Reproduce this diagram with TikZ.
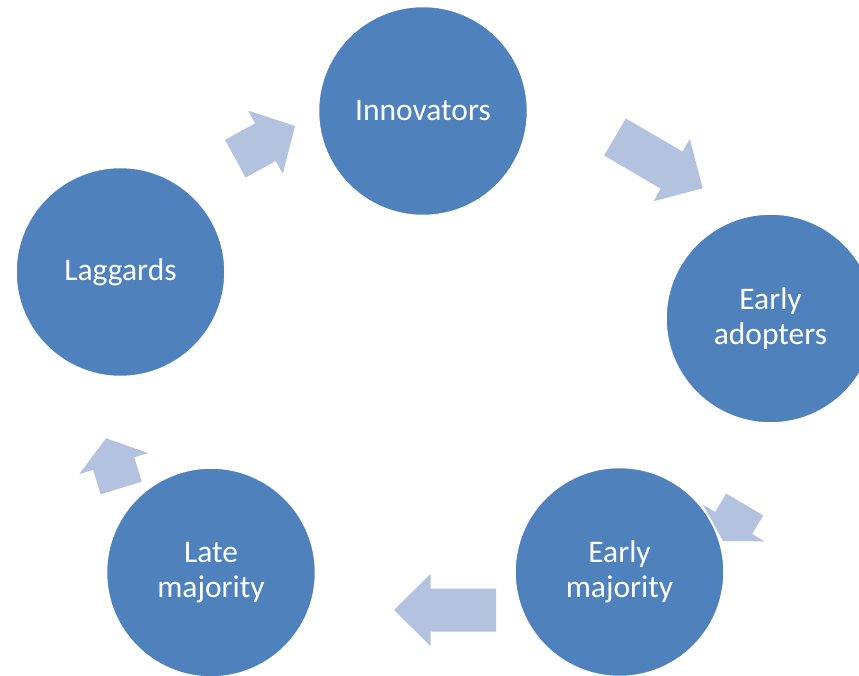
\documentclass[tikz,border=0pt]{standalone}
\usepackage{fontspec}
\setmainfont{Carlito}
\usetikzlibrary{calc}

\definecolor{stageblue}{HTML}{4F81BD}
\definecolor{flowblue}{HTML}{B3C3DF}

% block arrow: #1 name, #2 tail centre, #3 tip, #4 head length
\newcommand\blockarrow[4]{%
  \coordinate (#1-t) at #2;
  \coordinate (#1-h) at #3;
  \coordinate (#1-j) at ($(#1-h)!#4!(#1-t)$);
  \fill[arrowbody]
    ($(#1-t)!21.5pt!90:(#1-h)$) --
    ($(#1-j)!21.5pt!90:(#1-h)$) --
    ($(#1-j)!36pt!90:(#1-h)$) --
    (#1-h) --
    ($(#1-j)!36pt!-90:(#1-h)$) --
    ($(#1-j)!21.5pt!-90:(#1-h)$) --
    ($(#1-t)!21.5pt!-90:(#1-h)$) -- cycle;
}

\begin{document}
\begin{tikzpicture}[x=1pt,y=-1pt,
  arrowbody/.style={fill=flowblue},
  stage/.style={circle,fill=stageblue,draw=white,line width=1.5pt,
    minimum size=209pt,inner sep=0pt,text=white,align=center,
    font=\fontsize{31.5}{34.5}\selectfont}]
  \useasboundingbox[fill=white] (0,0) rectangle (859,676);

  % flow arrows between the stages
  \blockarrow{a1}{(235.3,158.7)}{(295,126)}{33.7pt}
  \blockarrow{a2}{(615,137)}{(702.7,188.3)}{36pt}
  \blockarrow{a3}{(744.7,504.5)}{(723,541)}{21pt}
  \blockarrow{a4}{(496,610)}{(394,610)}{36.5pt}
  \blockarrow{a5}{(121.2,488)}{(106,438.3)}{26.4pt}

  % adoption stages
  \node[stage] (inn) at (423,111) {Innovators};
  \node[stage] (ead) at (770.5,318.5) {Early\\adopters};
  \node[stage] (emj) at (619.5,572) {Early\\majority};
  \node[stage] (lmj) at (211,572.5) {Late\\majority};
  \node[stage] (lag) at (120.5,272) {Laggards};
\end{tikzpicture}
\end{document}
